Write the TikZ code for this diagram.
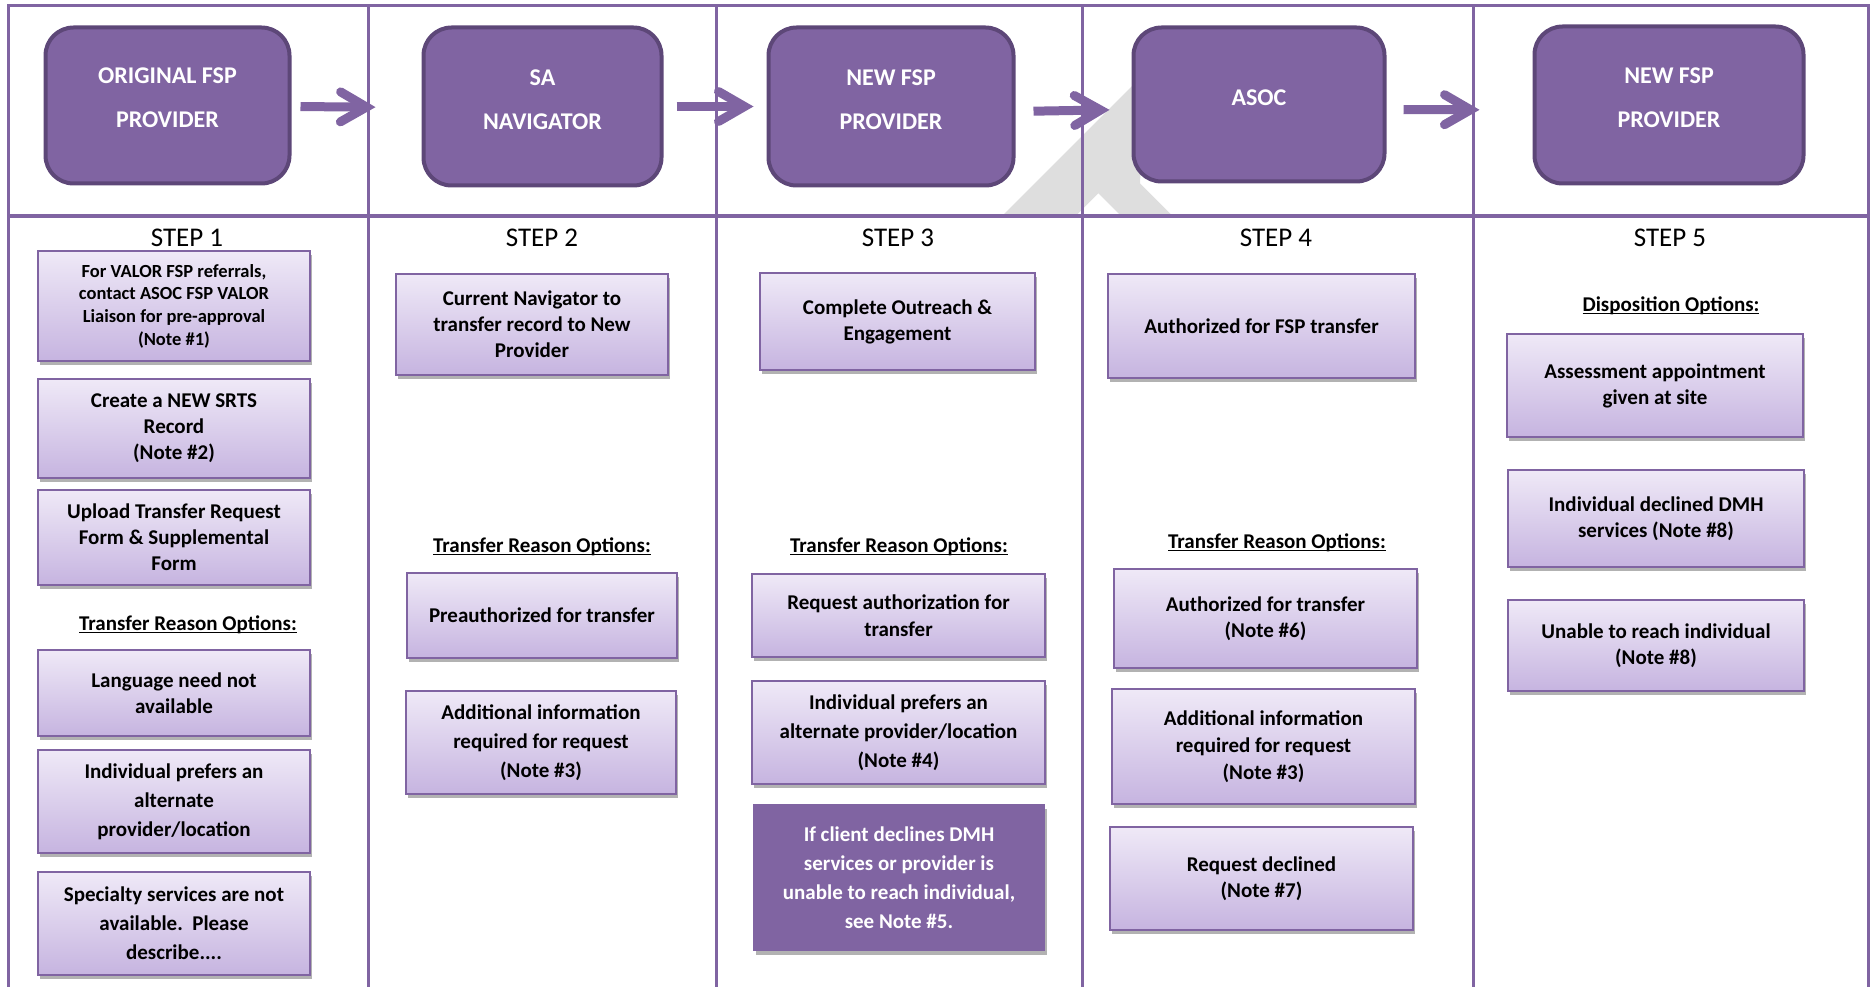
\documentclass[tikz,border=0pt]{standalone}
\usepackage{fontspec}
\setmainfont{Carlito}
\usetikzlibrary{arrows.meta,shadows}

\begin{document}
\begin{tikzpicture}[x=1pt,y=-1pt,
    gridline/.style={draw=mainPurple, line width=3pt},
    headbox/.style 2 args={draw=headBorder, fill=mainPurple, line width=4pt,
        rounded corners=28pt, minimum width=#1, minimum height=#2},
    headtext/.style={text=white, align=center,
        font=\fontsize{24}{44}\selectfont\bfseries},
    optbox/.style 2 args={draw=mainPurple, line width=2.5pt,
        top color=boxTop, bottom color=boxBottom,
        minimum width=#1, minimum height=#2, align=center,
        font=\fontsize{21}{26}\selectfont\bfseries,
        drop shadow={shadow xshift=2pt, shadow yshift=-4pt, opacity=.3, fill=black}},
    darkbox/.style 2 args={fill=mainPurple, draw=mainPurple, text=white,
        minimum width=#1, minimum height=#2, align=center,
        font=\fontsize{21}{29}\selectfont\bfseries,
        drop shadow={shadow xshift=2pt, shadow yshift=-4pt, opacity=.3, fill=black}},
    loose/.style={font=\fontsize{21}{29}\selectfont\bfseries},
    optheading/.style={font=\fontsize{21}{26}\selectfont\bfseries},
    steplabel/.style={font=\fontsize{27}{32}\selectfont},
    flowarrow/.style={draw=mainPurple, line width=9pt,
        -{Straight Barb[length=26pt, width=30pt, line cap=round]}}]
    % Define colours
    \definecolor{mainPurple}{HTML}{8064A2}
    \definecolor{headBorder}{HTML}{5D4778}
    \definecolor{boxTop}{HTML}{EFE9F7}
    \definecolor{boxBottom}{HTML}{C6B4E0}
    \definecolor{markGrey}{HTML}{DEDEDE}

    % Underline that crosses the descenders
    \def\ul#1{\underline{\vphantom{O}\smash{#1}}}

    % Fix the page size
    \useasboundingbox (0,0) rectangle (1872,987);

    % Watermark behind the table
    \fill[markGrey] (1002,216) -- (1145,73) -- (1140,183.3) -- (1172.7,216)
        -- (1121,216) -- (1098.3,193.3) -- (1075.7,216) -- cycle;

    % Draw the table
    \draw[gridline] (8,987) -- (8,6) -- (1868,6) -- (1868,987);
    \draw[gridline, line width=4pt] (8,216) -- (1868,216);
    \foreach \x in {368,716,1082,1473}
        \draw[gridline] (\x,6) -- (\x,987);

    % Header boxes
    \node[headbox={244}{156}] (h1) at (167.5,105.5) {};
    \node[headbox={238}{158}] (h2) at (542.5,106.5) {};
    \node[headbox={245}{158}] (h3) at (891,106.5) {};
    \node[headbox={251}{154}] (h4) at (1259,104.5) {};
    \node[headbox={269}{157}] (h5) at (1669,105) {};

    \node[headtext] (h1t) at ([yshift=8pt]h1.center) {ORIGINAL FSP\\PROVIDER};
    \node[headtext] (h2t) at ([yshift=7pt]h2.center) {SA\\NAVIGATOR};
    \node[headtext] (h3t) at ([yshift=7pt]h3.center) {NEW FSP\\PROVIDER};
    \node[headtext] (h4t) at ([yshift=7pt]h4.center) {ASOC};
    \node[headtext] (h5t) at ([yshift=7pt]h5.center) {NEW FSP\\PROVIDER};

    % Arrows between the header boxes
    \draw[flowarrow, shorten <=9pt, shorten >=46pt] ([yshift=-1pt]h1.east) -- ([yshift=-1pt]h2.west);
    \draw[flowarrow, shorten <=13pt, shorten >=13pt] (h2.east) -- (h3.west);
    \draw[flowarrow, shorten <=18pt, shorten >=22pt] ([yshift=-5pt]h3.east) -- ([yshift=-5pt]h4.west);
    \draw[flowarrow, shorten <=17pt, shorten >=53pt] ([yshift=-5pt]h4.east) -- ([yshift=-5pt]h5.west);

    % Step labels
    \foreach \n/\x in {1/187,2/542,3/898,4/1276,5/1670}
        \node[steplabel] (step\n) at (\x,238) {STEP \n};

    % Step 1
    \node[optbox={272}{110}, font=\fontsize{18.5}{22.7}\selectfont\bfseries] (b1) at (174,306)
        {For VALOR FSP referrals,\\contact ASOC FSP VALOR\\Liaison for pre-approval\\(Note \#1)};
    \node[optbox={272}{99}] (b2) at (174,428.5) {Create a NEW SRTS\\Record\\(Note \#2)};
    \node[optbox={272}{95}] (b3) at (174,537.5) {Upload Transfer Request\\Form \& Supplemental\\Form};
    \node[optheading] (reason1) at (188,625) {\ul{Transfer Reason Options:}};
    \node[optbox={272}{86}] (b4) at (174,693) {Language need not\\available};
    \node[optbox={272}{103}, loose] (b5) at (174,801.5) {Individual prefers an\\alternate\\provider/location};
    \node[optbox={272}{103}, loose] (b6) at (174,923.5) {Specialty services are not\\available.\ \ Please\\describe....};

    % Step 2
    \node[optbox={272}{101}] (c2a) at (532,324.5) {Current Navigator to\\transfer record to New\\Provider};
    \node[optheading] (reason2) at (542,547) {\ul{Transfer Reason Options:}};
    \node[optbox={270}{85}] (c2b) at (542,615.5) {Preauthorized for transfer};
    \node[optbox={270}{103}, loose] (c2c) at (541,742.5) {Additional information\\required for request\\(Note \#3)};

    % Step 3
    \node[optbox={275}{97}] (c3a) at (897.5,321.5) {Complete Outreach \&\\Engagement};
    \node[optheading] (reason3) at (899,547) {\ul{Transfer Reason Options:}};
    \node[optbox={293}{83}, font=\fontsize{21}{27}\selectfont\bfseries] (c3b) at (898.5,615.5) {Request authorization for\\transfer};
    \node[optbox={293}{103}, loose] (c3c) at (898.5,732.5) {Individual prefers an\\alternate provider/location\\(Note \#4)};
    \node[darkbox={291}{146}] (c3d) at (899,877.5) {If client declines DMH\\services or provider is\\unable to reach individual,\\see Note \#5.};

    % Step 4
    \node[optbox={307}{104}] (c4a) at (1261.5,326) {Authorized for FSP transfer};
    \node[optheading] (reason4) at (1277,543) {\ul{Transfer Reason Options:}};
    \node[optbox={303}{99}] (c4b) at (1265.5,618.5) {Authorized for transfer\\(Note \#6)};
    \node[optbox={303}{115}, font=\fontsize{21}{27}\selectfont\bfseries] (c4c) at (1263.5,746.5) {Additional information\\required for request\\(Note \#3)};
    \node[optbox={303}{103}] (c4d) at (1261.5,878.5) {Request declined\\(Note \#7)};

    % Step 5
    \node[optheading] (dispo5) at (1671,306) {\ul{Disposition Options:}};
    \node[optbox={296}{103}] (c5a) at (1655,385.5) {Assessment appointment\\given at site};
    \node[optbox={296}{97}] (c5b) at (1656,518.5) {Individual declined DMH\\services (Note \#8)};
    \node[optbox={296}{91}] (c5c) at (1656,645.5) {Unable to reach individual\\(Note \#8)};

\end{tikzpicture}
\end{document}
